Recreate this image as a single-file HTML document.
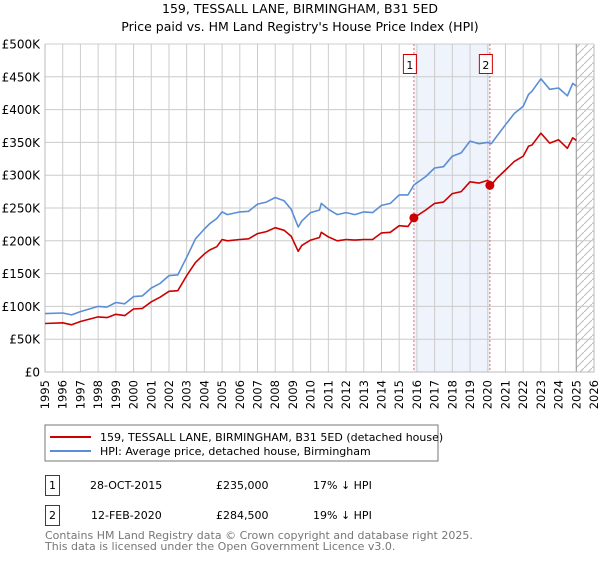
<!DOCTYPE html>
<html><head><meta charset="utf-8"><style>
body{margin:0;background:#fff;width:600px;height:560px;overflow:hidden;font-family:"Liberation Sans","DejaVu Sans",sans-serif}
svg text{font-family:"DejaVu Sans","Liberation Sans",sans-serif}
</style></head><body>
<svg id="chart" width="600" height="560" xmlns="http://www.w3.org/2000/svg">
<text x="300" y="13" text-anchor="middle" font-size="12.5" fill="#000">159, TESSALL LANE, BIRMINGHAM, B31 5ED</text>
<text x="300" y="31" text-anchor="middle" font-size="12.5" fill="#000">Price paid vs. HM Land Registry's House Price Index (HPI)</text>
<g id="plot"></g>
<g>
<rect x="45" y="425" width="393" height="36" fill="#fff" stroke="#777" stroke-width="1"/>
<line x1="50" y1="437" x2="91" y2="437" stroke="#cc0000" stroke-width="2"/>
<text x="100" y="441" font-size="11" fill="#000">159, TESSALL LANE, BIRMINGHAM, B31 5ED (detached house)</text>
<line x1="50" y1="451" x2="91" y2="451" stroke="#5b8ed6" stroke-width="2"/>
<text x="100" y="455" font-size="11" fill="#000">HPI: Average price, detached house, Birmingham</text>
</g>
<g font-size="11" fill="#000">
<rect x="45.5" y="475.5" width="14" height="20" fill="#fff" stroke="#cc0000"/>
<text x="52.5" y="489" text-anchor="middle">1</text>
<text x="90" y="489">28-OCT-2015</text>
<text x="216" y="489">£235,000</text>
<text x="313" y="489">17% ↓ HPI</text>
<rect x="45.5" y="505.5" width="14" height="20" fill="#fff" stroke="#cc0000"/>
<text x="52.5" y="519" text-anchor="middle">2</text>
<text x="91" y="519">12-FEB-2020</text>
<text x="216" y="519">£284,500</text>
<text x="313" y="519">19% ↓ HPI</text>
</g>
<text x="45" y="539" font-size="11" fill="#777">Contains HM Land Registry data © Crown copyright and database right 2025.</text>
<text x="45" y="550" font-size="11" fill="#777">This data is licensed under the Open Government Licence v3.0.</text>
</svg>
<script>
const years=[1995,1996,1996.5,1997,1998,1998.5,1999,1999.5,2000,2000.5,2001,2001.5,2002,2002.5,2003,2003.5,2004,2004.3,2004.7,2005,2005.3,2006,2006.5,2007,2007.5,2008,2008.5,2008.9,2009.3,2009.5,2010,2010.5,2010.6,2011,2011.5,2012,2012.5,2013,2013.5,2014,2014.5,2015,2015.5,2015.83,2016.5,2017,2017.5,2018,2018.5,2019,2019.5,2020,2020.2,2020.5,2021,2021.5,2022,2022.3,2022.5,2023,2023.5,2024,2024.5,2024.8,2025];
const hpiValues=[89,90,87,92,100,99,106,104,115,116,128,135,147,148,175,203,218,226,234,244,240,244,245,256,259,266,261,248,221,230,243,247,257,248,240,243,240,244,243,254,257,270,270,285,298,311,313,329,334,352,348,350,348,359,377,394,405,423,428,447,431,433,421,440,436];
const priceValues=[74,75,72,77,84,83,88,86,96,97,107,114,123,124,147,167,180,186,191,202,200,202,203,211,214,220,216,207,184,193,201,205,213,206,200,202,201,202,202,212,213,223,222,235,247,257,259,272,275,290,288,292,285,295,308,321,329,344,346,364,349,354,341,357,353];
const saleDates=[2015.83,2020.12];
const salePrices=[235,284.5];
const saleLabels=["1","2"];
const yTicks=[0,50,100,150,200,250,300,350,400,450,500];
const yTickLabels=["£0","£50K","£100K","£150K","£200K","£250K","£300K","£350K","£400K","£450K","£500K"];
const xTicks=[1995,1996,1997,1998,1999,2000,2001,2002,2003,2004,2005,2006,2007,2008,2009,2010,2011,2012,2013,2014,2015,2016,2017,2018,2019,2020,2021,2022,2023,2024,2025,2026];

const L=45,R=594,T=44,B=372,x0=1995,x1=2026,ymax=500;
const X=v=>L+(v-x0)/(x1-x0)*(R-L);
const Y=v=>B-v/ymax*(B-T);
const NS="http://www.w3.org/2000/svg";
const g=document.getElementById('plot');
function mk(tag,at,parent){const e=document.createElementNS(NS,tag);for(const k in at)e.setAttribute(k,at[k]);(parent||g).appendChild(e);return e;}
// shading
let sh=mk('rect',{x:X(saleDates[0]),y:T,width:X(saleDates[1])-X(saleDates[0]),height:B-T,fill:'#eef3fc'});


// hatch
const defs=mk('defs',{});
const pat=mk('pattern',{id:'hatch',patternUnits:'userSpaceOnUse',width:8,height:8},defs);
mk('path',{d:'M0,8 L8,0',stroke:'#bbb','stroke-width':1},pat);
let ht=mk('rect',{x:X(2025),y:T,width:R-X(2025),height:B-T,fill:'url(#hatch)'});


// grid
yTicks.forEach((v,i)=>{
 let l=mk('line',{x1:L,x2:R,y1:Y(v),y2:Y(v),stroke:'#cccccc','stroke-width':1});
 
 
 let t=mk('text',{x:L-5,y:Y(v)+4.5,'text-anchor':'end','font-size':12,fill:'#000'});
 
 
 t.textContent=yTickLabels[i];
});
xTicks.forEach(v=>{
 let l=mk('line',{x1:X(v),x2:X(v),y1:T,y2:B,stroke:'#cccccc','stroke-width':1});
 
 
 let t=mk('text',{x:0,y:0,'text-anchor':'end','font-size':11.5,fill:'#000',transform:`translate(${X(v)+4},380) rotate(-90)`});
 
 
 t.textContent=String(v);
});
let el=mk('line',{x1:X(2025),x2:X(2025),y1:T,y2:B,stroke:'#999','stroke-width':1});


let ax=mk('path',{d:`M${L},${T} L${L},${B} L${R},${B} L${R},${T}`,fill:'none',stroke:'#bbb','stroke-width':1});


// sale vlines + labels
saleDates.forEach((d,i)=>{
 let l=mk('line',{x1:X(d),x2:X(d),y1:T,y2:B,stroke:'#ee6666','stroke-width':1,'stroke-dasharray':'2,2'});
 
 
 let r=mk('rect',{x:X(d)-10.5,y:54.5,width:13,height:19,fill:'#fff',stroke:'#cc0000'});
 
 
 let t=mk('text',{x:X(d)-4,y:69,'text-anchor':'middle','font-size':11,fill:'#000'});
 
 
 t.textContent=saleLabels[i];
});
function line(vals,color,name){
 const d=vals.map((v,i)=>(i?'L':'M')+X(years[i]).toFixed(1)+','+Y(v).toFixed(1)).join(' ');
 let p=mk('path',{d:d,fill:'none',stroke:color,'stroke-width':1.6,'stroke-linejoin':'round'});
 
 
}
line(hpiValues,'#5b8ed6','hpi-line');
line(priceValues,'#cc0000','price-line');
saleDates.forEach((d,i)=>{
 let c=mk('circle',{cx:X(d),cy:Y(salePrices[i]),r:4.5,fill:'#cc0000'});
 
 
});
</script>
</body></html>
